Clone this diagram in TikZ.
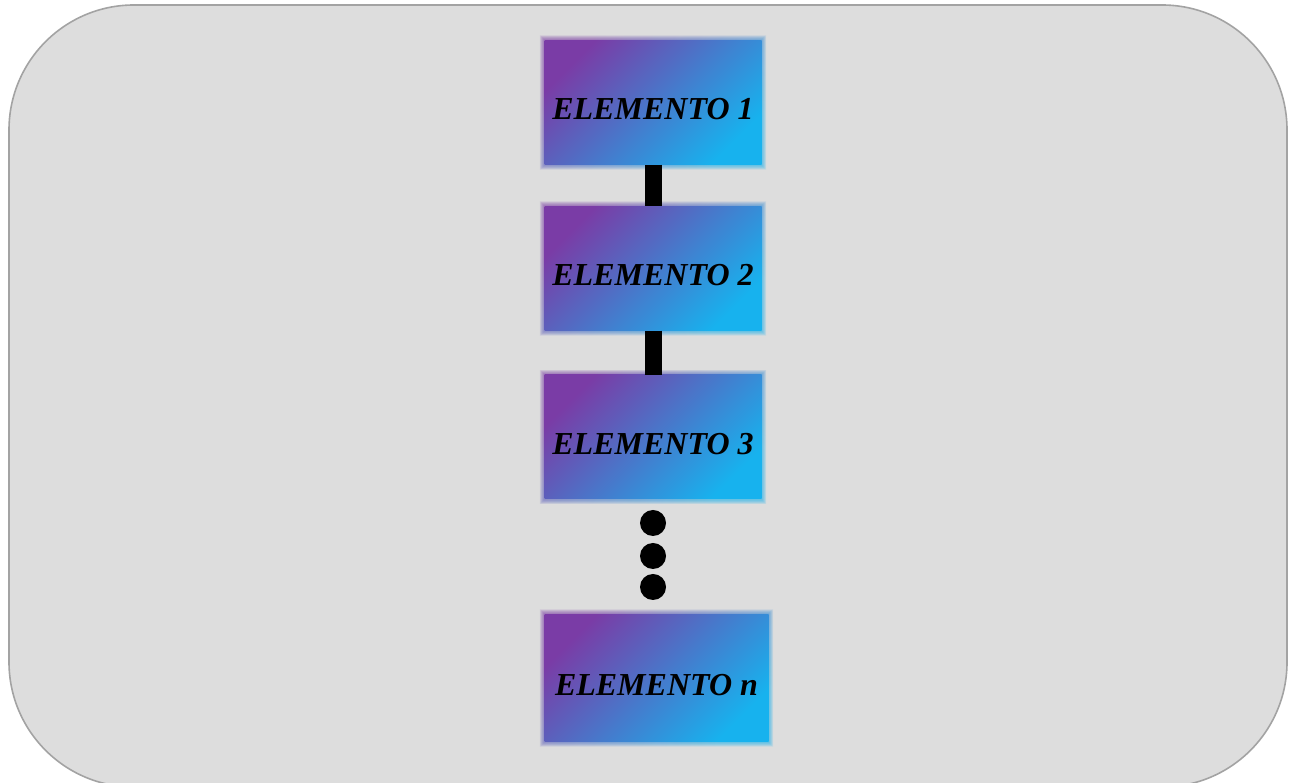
\documentclass[tikz,border=0pt]{standalone}
\usepackage{fontspec}
\setmainfont{Liberation Serif}
\usetikzlibrary{backgrounds}
\definecolor{panelgray}{HTML}{DDDDDD}
\definecolor{panelline}{HTML}{A3A3A3}
\definecolor{boxpurple}{HTML}{7A3CA6}
\definecolor{boxmid}{HTML}{4F82CE}
\definecolor{boxcyan}{HTML}{17B2EE}
\pgfdeclarelayer{rim}
\pgfsetlayers{background,rim,main}
\tikzset{
  panel/.style={draw=panelline, fill=panelgray, line width=1.6pt, rounded corners=125pt},
  boxshade/.style={top color=boxpurple, middle color=boxmid, bottom color=boxcyan, shading angle=45},
  elem/.style={boxshade, inner sep=0pt, minimum height=124pt,
    font=\fontsize{32}{38}\selectfont\bfseries\itshape,
    text height=35pt, text depth=0pt},
  link/.style={draw=black, line width=17pt},
  dot/.style={circle, fill=black, minimum size=26pt, inner sep=0pt},
}
\begin{document}
\begin{tikzpicture}[x=1pt, y=1pt]
  \useasboundingbox (0,0) rectangle (1289,783);
  % rounded panel behind everything
  \begin{pgfonlayer}{background}
    \path[panel] (9,778) rectangle (1287,-4);
  \end{pgfonlayer}

  % chain of elements
  \node[elem, minimum width=217pt] (e1) at (653,680.5) {ELEMENTO 1};
  \node[elem, minimum width=217pt] (e2) at (653,514.5) {ELEMENTO 2};
  \node[elem, minimum width=217pt] (e3) at (653,346) {ELEMENTO 3};
  \node[elem, minimum width=224pt, minimum height=127pt] (en) at (656.5,105) {ELEMENTO n};

  % soft edges around the boxes
  \begin{pgfonlayer}{rim}
    \foreach \n in {e1,e2,e3,en}{
      \foreach \d in {0.5,1,...,4.5}{
        \shade[boxshade, fill opacity=0.09]
          ([shift={(-\d pt,\d pt)}]\n.north west) rectangle ([shift={(\d pt,-\d pt)}]\n.south east);
      }
    }
  \end{pgfonlayer}

  % connectors
  \draw[link] (e1.south) -- (e2.north);
  \draw[link] (e2.south) -- (e3.north);

  % ellipsis dots
  \node[dot] (d1) at (653,260) {};
  \node[dot] (d2) at (653,227) {};
  \node[dot] (d3) at (653,196) {};
\end{tikzpicture}
\end{document}
